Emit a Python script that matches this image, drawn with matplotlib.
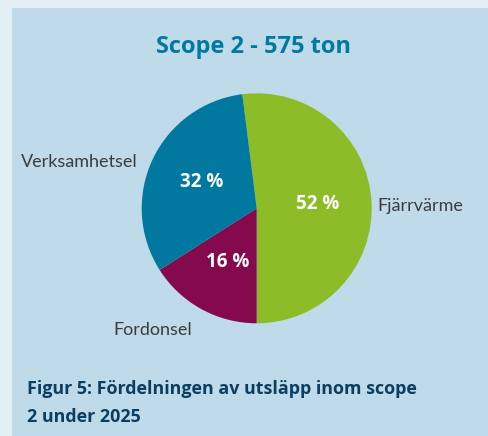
import matplotlib.pyplot as plt

# data
categories = ['Fjärrvärme', 'Fordonsel', 'Verksamhetsel']
shares = [52, 16, 32]
colors = ['#8cbd28', '#850a4d', '#00789f']
title = 'Scope 2 - 575 ton'
caption = 'Figur 5: Fördelningen av utsläpp inom scope\n2 under 2025'

W, H = 488, 436
fig = plt.figure(figsize=(W / 100, H / 100), dpi=100)
fig.patch.set_facecolor('#e3eef5')

# panel
panel = fig.add_axes([12 / W, 0, 1 - 12 / W, 1 - 8 / H])
panel.set_facecolor('#bfdae8')
panel.set_xticks([])
panel.set_yticks([])
for s in panel.spines.values():
    s.set_visible(False)

cx, cy, r = 256.7, 208.3, 115
ax = fig.add_axes([(cx - r) / W, (H - cy - r) / H, 2 * r / W, 2 * r / H])
ax.set_facecolor('none')
wedges, texts, autotexts = ax.pie(
    shares, labels=categories, colors=colors, startangle=97.2, counterclock=False,
    autopct=lambda p: f'{p:.0f} %', pctdistance=0.53, labeldistance=1.1,
    wedgeprops=dict(linewidth=0),
    textprops=dict(fontfamily='Lato', fontsize=13, color='#3c3c3c'))
for t in autotexts:
    t.set_color('white')
    t.set_fontweight('bold')
    t.set_fontsize(13.5)
    t.set_fontfamily('Open Sans')

# label placement as in the original
label_pos = [(1.046, 0.02), (-0.563, -1.059), (-1.032, 0.403)]
for t, p in zip(texts, label_pos):
    t.set_position(p)
    t.set_va('center')

ax.set_xlim(-1, 1)
ax.set_ylim(-1, 1)
ax.set_aspect('auto')

fig.text(253 / W, 1 - 47 / H, title, ha='center', va='center', fontsize=17,
         fontweight='bold', color='#007aa1', fontfamily='Open Sans')
fig.text(27 / W, 1 - 403 / H, caption, ha='left', va='center', fontsize=12.9,
         fontweight='bold', color='#0a3f62', fontfamily='Open Sans', linespacing=1.65)

fig.savefig('out.png', dpi=100, facecolor=fig.get_facecolor())
